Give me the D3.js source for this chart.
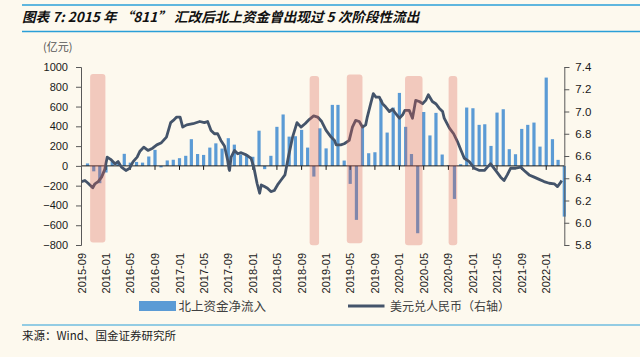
<!DOCTYPE html>
<html><head><meta charset="utf-8">
<script src="https://cdn.jsdelivr.net/npm/d3@7"></script>
<style>
html,body{margin:0;padding:0;background:#FDF9EE;}
svg{display:block;}
</style></head>
<body>
<svg id="c" width="640" height="357"></svg>
<script>
// ---------- data ----------
const titleText = "图表 7: 2015 年 “811” 汇改后北上资金曾出现过 5 次阶段性流出";
const unitText = "(亿元)";
const sourceText = "来源：Wind、国金证券研究所";
const barLegend = "北上资金净流入";
const lineLegend = "美元兑人民币（右轴）";

const leftTicks = [1000, 800, 600, 400, 200, 0, -200, -400, -600, -800];
const rightTicks = [7.4, 7.2, 7.0, 6.8, 6.6, 6.4, 6.2, 6.0, 5.8];
const xTickLabels = ["2015-09","2016-01","2016-05","2016-09","2017-01","2017-05","2017-09",
  "2018-01","2018-05","2018-09","2019-01","2019-05","2019-09","2020-01","2020-05","2020-09",
  "2021-01","2021-05","2021-09","2022-01"];

// monthly northbound net flow (亿元), 2015-09 .. 2022-03 (plotted at month end)
const flowMonths = d3.timeMonth.range(new Date(2015, 8, 1), new Date(2022, 3, 1)).map(d3.timeFormat("%Y-%m"));
const flowValues = [25,-55,-175,-67,45,28,122,33,40,33,95,162,-15,55,62,78,102,270,120,111,
  185,228,175,280,215,115,118,92,356,-33,102,395,520,296,300,364,185,-108,380,177,
  617,617,54,-182,-546,390,128,138,670,337,590,738,395,120,-681,545,308,536,115,8,
  -334,17,590,583,415,421,202,539,573,169,118,374,415,438,195,893,270,61,-513];

// USD/CNY (right axis)
const fxDates = ["2015-09-01","2015-09-18","2015-10-04","2015-10-27","2015-11-07","2015-11-23","2015-12-10","2015-12-26",
  "2016-01-07","2016-01-24","2016-02-15","2016-03-01","2016-03-18","2016-04-09","2016-04-28","2016-05-15","2016-06-04",
  "2016-06-17","2016-07-07","2016-07-28","2016-08-20","2016-09-10","2016-10-03","2016-10-28","2016-11-18","2016-12-01",
  "2016-12-18","2017-01-04","2017-01-17","2017-02-06","2017-03-09","2017-04-12","2017-05-05","2017-05-21","2017-06-07",
  "2017-06-24","2017-07-10","2017-07-26","2017-08-13","2017-08-29","2017-09-07","2017-09-15","2017-10-02","2017-10-18",
  "2017-11-04","2017-11-29","2017-12-23","2018-01-06","2018-01-22","2018-02-04","2018-02-12","2018-02-28","2018-03-15",
  "2018-04-01","2018-04-18","2018-05-04","2018-05-20","2018-06-10","2018-06-27","2018-07-18","2018-08-09","2018-08-29",
  "2018-09-18","2018-10-10","2018-10-31","2018-11-20","2018-12-10","2019-01-01","2019-01-26","2019-02-12","2019-02-20",
  "2019-03-15","2019-04-01","2019-04-26","2019-05-12","2019-05-28","2019-06-15","2019-07-01","2019-07-17","2019-07-25",
  "2019-08-11","2019-08-24","2019-09-06","2019-09-23","2019-10-09","2019-10-25","2019-11-12","2019-11-28","2019-12-14",
  "2020-01-01","2020-01-17","2020-01-28","2020-02-19","2020-03-06","2020-03-22","2020-04-09","2020-04-25","2020-05-11",
  "2020-05-24","2020-06-13","2020-06-30","2020-07-17","2020-08-03","2020-08-11","2020-09-06","2020-09-27","2020-10-16",
  "2020-11-03","2020-11-19","2020-12-14","2021-01-08","2021-02-03","2021-02-27","2021-03-14","2021-03-30","2021-04-24",
  "2021-05-19","2021-06-05","2021-06-21","2021-07-08","2021-08-02","2021-08-27","2021-09-13","2021-10-08","2021-11-02",
  "2021-11-27","2021-12-21","2022-01-16","2022-02-10","2022-02-26","2022-03-13","2022-03-19"];
const fxValues = [6.37,6.38,6.355,6.315,6.35,6.37,6.41,6.48,
  6.59,6.57,6.53,6.55,6.50,6.47,6.49,6.55,6.59,
  6.64,6.68,6.65,6.67,6.70,6.72,6.77,6.90,6.92,
  6.95,6.95,6.86,6.88,6.89,6.91,6.90,6.91,6.83,
  6.80,6.80,6.74,6.69,6.56,6.47,6.59,6.65,6.62,
  6.63,6.61,6.58,6.50,6.355,6.265,6.34,6.325,6.31,
  6.28,6.29,6.34,6.38,6.43,6.59,6.77,6.90,6.86,
  6.89,6.93,6.96,6.95,6.91,6.83,6.77,6.74,6.70,
  6.70,6.71,6.74,6.86,6.92,6.91,6.86,6.88,6.95,
  7.07,7.16,7.13,7.13,7.07,7.04,7.00,7.02,6.98,
  6.94,6.97,7.01,7.01,6.94,7.10,7.09,7.07,7.10,
  7.15,7.09,7.07,7.03,7.00,6.94,6.85,6.80,6.73,
  6.65,6.58,6.55,6.49,6.47,6.47,6.50,6.53,6.47,
  6.41,6.38,6.43,6.49,6.49,6.50,6.47,6.43,6.41,
  6.39,6.37,6.355,6.35,6.325,6.36,6.38];

// outflow phases (highlight boxes), in date / 亿元 units
const phaseStart = ["2015-10-14","2018-10-11","2019-04-14","2020-01-29","2020-09-02"];
const phaseEnd   = ["2015-12-29","2018-11-27","2019-07-01","2020-04-25","2020-10-15"];
const phaseTop   = [930, 910, 923, 910, 910];
const phaseBottom= [-775, -802, -782, -802, -802];

// ---------- drawing ----------
const svg = d3.select("#c");
const parse = d3.timeParse("%Y-%m-%d");
const parseM = d3.timeParse("%Y-%m");

const x = d3.scaleTime().domain([new Date(2015, 8, 1), new Date(2022, 3, 1)]).range([81.5, 564.3]);
const yL = d3.scaleLinear().domain([-800, 1000]).range([245, 67]);
const yR = d3.scaleLinear().domain([5.8, 7.4]).range([245, 67]);

const txtColor = "#404040";
const numFont = "'Liberation Sans', Arial, sans-serif";
const cjkFont = "'Noto Sans CJK SC', sans-serif";

// title + rules
svg.append("line").attr("x1", 22).attr("x2", 640).attr("y1", 5).attr("y2", 5)
  .attr("stroke", "#2A9FD8").attr("stroke-width", 1.6);
svg.append("line").attr("x1", 22).attr("x2", 640).attr("y1", 31.5).attr("y2", 31.5)
  .attr("stroke", "#2A9FD8").attr("stroke-width", 1.6);
svg.append("text").attr("x", 22).attr("y", 21.5).text(titleText)
  .attr("font-family", cjkFont).attr("font-weight", "bold").attr("font-style", "italic")
  .attr("font-size", 13.6).attr("fill", "#111");

svg.append("text").attr("x", 43).attr("y", 50.5).text(unitText)
  .attr("font-family", cjkFont).attr("font-size", 11).attr("fill", "#555");

// bars
const flows = flowMonths.map((m, i) => ({ date: d3.timeMonth.offset(parseM(m), 1), v: flowValues[i] }));
const bw = 3.2;
svg.append("g").selectAll("rect").data(flows).join("rect")
  .attr("x", d => x(d.date) - bw / 2)
  .attr("width", bw)
  .attr("y", d => yL(Math.max(0, d.v)))
  .attr("height", d => Math.abs(yL(d.v) - yL(0)))
  .attr("fill", "#5B9BD5");

// zero axis
const ticksDates = xTickLabels.map(s => parseM(s));
svg.append("line").attr("x1", 81).attr("x2", 564.3).attr("y1", yL(0)).attr("y2", yL(0))
  .attr("stroke", "#1a1a1a").attr("stroke-width", 1);
svg.append("g").selectAll("line").data(ticksDates).join("line")
  .attr("x1", d => x(d)).attr("x2", d => x(d))
  .attr("y1", yL(0)).attr("y2", yL(0) + 4)
  .attr("stroke", "#1a1a1a").attr("stroke-width", 1);

// fx line
const fx = fxDates.map((d, i) => ({ date: parse(d), v: fxValues[i] }));
svg.append("path").datum(fx)
  .attr("d", d3.line().x(d => x(d.date)).y(d => yR(d.v)).curve(d3.curveLinear))
  .attr("fill", "none").attr("stroke", "#44546A").attr("stroke-width", 2.8)
  .attr("stroke-linejoin", "round");

// phase highlights
const phases = phaseStart.map((s, i) => ({ s: parse(s), e: parse(phaseEnd[i]), t: phaseTop[i], b: phaseBottom[i] }));
svg.append("g").selectAll("rect").data(phases).join("rect")
  .attr("x", d => x(d.s)).attr("width", d => x(d.e) - x(d.s))
  .attr("y", d => yL(d.t)).attr("height", d => yL(d.b) - yL(d.t))
  .attr("rx", 3).attr("fill", "#DA5A4C").attr("fill-opacity", 0.3);

// left axis
const gL = svg.append("g").attr("transform", "translate(81,0)")
  .call(d3.axisLeft(yL).tickValues(leftTicks).tickSize(5).tickPadding(8).tickFormat(d3.format("d")));
gL.select(".domain").attr("stroke", "#595959");
gL.selectAll(".tick line").attr("stroke", "#595959");
gL.selectAll("text").attr("font-family", numFont).attr("font-size", 11).attr("fill", "#1a1a1a");

// right axis
const gR = svg.append("g").attr("transform", "translate(564.3,0)")
  .call(d3.axisRight(yR).tickValues(rightTicks).tickSize(5).tickPadding(6).tickFormat(d3.format(".1f")));
gR.select(".domain").attr("stroke", "#595959");
gR.selectAll(".tick line").attr("stroke", "#595959");
gR.selectAll("text").attr("font-family", numFont).attr("font-size", 11.5).attr("fill", "#1a1a1a");

// x labels (rotated)
svg.append("g").selectAll("text").data(xTickLabels).join("text")
  .attr("transform", d => `translate(${x(parseM(d)) + 4},253) rotate(-90)`)
  .attr("text-anchor", "end")
  .attr("font-family", numFont).attr("font-size", 11).attr("fill", "#1a1a1a")
  .text(d => d);

// legend
svg.append("rect").attr("x", 139).attr("y", 301).attr("width", 37).attr("height", 10).attr("fill", "#5B9BD5");
svg.append("text").attr("x", 178.5).attr("y", 310.5).text(barLegend)
  .attr("font-family", cjkFont).attr("font-size", 12.5).attr("fill", txtColor);
svg.append("line").attr("x1", 348).attr("x2", 384.5).attr("y1", 306).attr("y2", 306)
  .attr("stroke", "#44546A").attr("stroke-width", 3);
svg.append("text").attr("x", 390).attr("y", 310.5).text(lineLegend)
  .attr("font-family", cjkFont).attr("font-size", 12).attr("fill", txtColor);

// bottom rule + source
svg.append("line").attr("x1", 22).attr("x2", 640).attr("y1", 325).attr("y2", 325)
  .attr("stroke", "#2A9FD8").attr("stroke-width", 1.2);
svg.append("text").attr("x", 22).attr("y", 340).text(sourceText)
  .attr("font-family", cjkFont).attr("font-size", 11.5).attr("fill", "#222");
</script>
</body></html>
